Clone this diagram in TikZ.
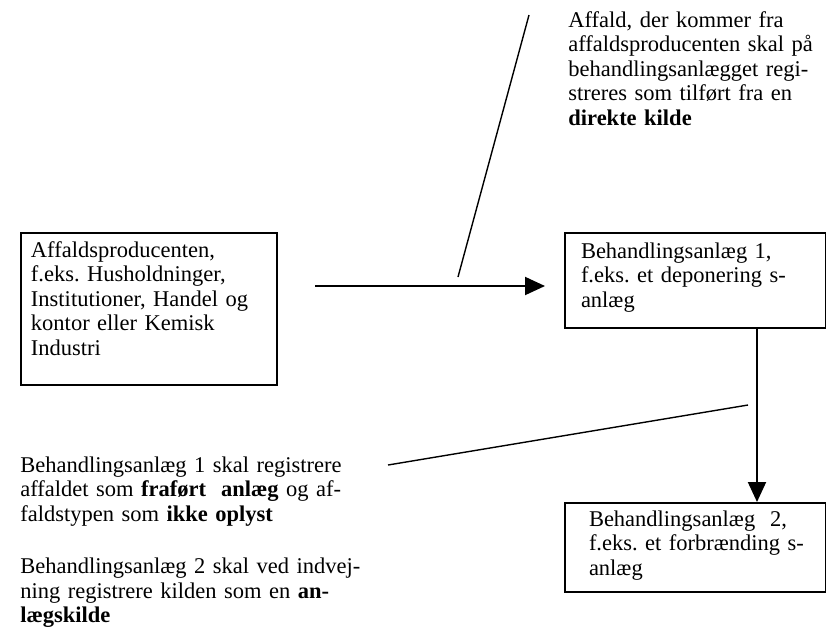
\documentclass[tikz,border=0pt]{standalone}
\usepackage{fontspec}
\setmainfont{Liberation Serif}
\frenchspacing
\usetikzlibrary{arrows.meta,calc}
\tikzset{
    %Define standard arrow tip
    >={Triangle[length=10pt,width=9pt]},
    %Define style for boxes
    boks/.style={
           rectangle,
           draw=black, line width=1pt,
           anchor=north west,
           inner sep=0pt,
           align=left,
           font=\fontsize{11.25pt}{12.25pt}\selectfont},
    %left margin inside a box
    indryk/.style={
           execute at begin node={\leftskip=#1}},
    %Define style for free text
    tekst/.style={
           anchor=base west,
           inner sep=0pt,
           align=left,
           font=\fontsize{11.25pt}{12.25pt}\selectfont},
    % Define arrow style
    pil/.style={
           ->,
           line width=1pt},
    % thin pointer lines
    streg/.style={
           line width=0.7pt}
}

\begin{document}
\begin{tikzpicture}[x=0.5pt,y=-0.5pt]
\useasboundingbox (0,0) rectangle (826,628);
%the three boxes
\node[boks, indryk=5pt, text width=128pt, text height=12pt, text depth=64pt] (producent) at (20,232)
  {Affaldsproducenten,\\ f.eks. Husholdninger,\\ Institutioner, Handel og\\ kontor eller Kemisk\\ Industri};
\node[boks, indryk=8pt, text width=130.5pt, text height=12.5pt, text depth=35pt] (anlaeg1) at (564,232)
  {Behandlingsanlæg 1,\\ f.eks. et deponering s-\\ anlæg};
\node[boks, indryk=12pt, text width=130.5pt, text height=11.5pt, text depth=33pt] (anlaeg2) at (564,502)
  {Behandlingsanlæg\ \ 2,\\ f.eks. et forbrænding s-\\ anlæg};
%texts
\node[tekst, text width=130pt] (direkte) at (568,27)
  {Affald, der kommer fra\\ affaldsproducenten skal på\\ behandlingsanlægget regi-\\ streres som tilført fra en\\ \textbf{direkte kilde}};
\node[tekst, text width=175pt] (registrering) at (20,472)
  {Behandlingsanlæg 1 skal registrere\\ affaldet som \textbf{fraført}\ \ \textbf{anlæg} og af-\\ faldstypen som \textbf{ikke oplyst}\\[14pt]
   Behandlingsanlæg 2 skal ved indvej-\\ ning registrere kilden som en \textbf{an-}\\ \textbf{lægskilde}};
%arrows between boxes
\coordinate (pilstart) at (315,286);
\coordinate (lodret) at (757,0);
\draw[pil, shorten >=9.5pt] (pilstart) -- (anlaeg1.west |- pilstart);
\draw[pil] (anlaeg1.south -| lodret) -- (anlaeg2.north -| lodret);
%pointer lines
\coordinate (streg1a) at (458,277);
\coordinate (streg1b) at (529,15);
\coordinate (streg2a) at (388,465);
\coordinate (streg2b) at (748,405);
\draw[streg] (streg1a) -- (streg1b);
\draw[streg] (streg2a) -- (streg2b);
\end{tikzpicture}
\end{document}
